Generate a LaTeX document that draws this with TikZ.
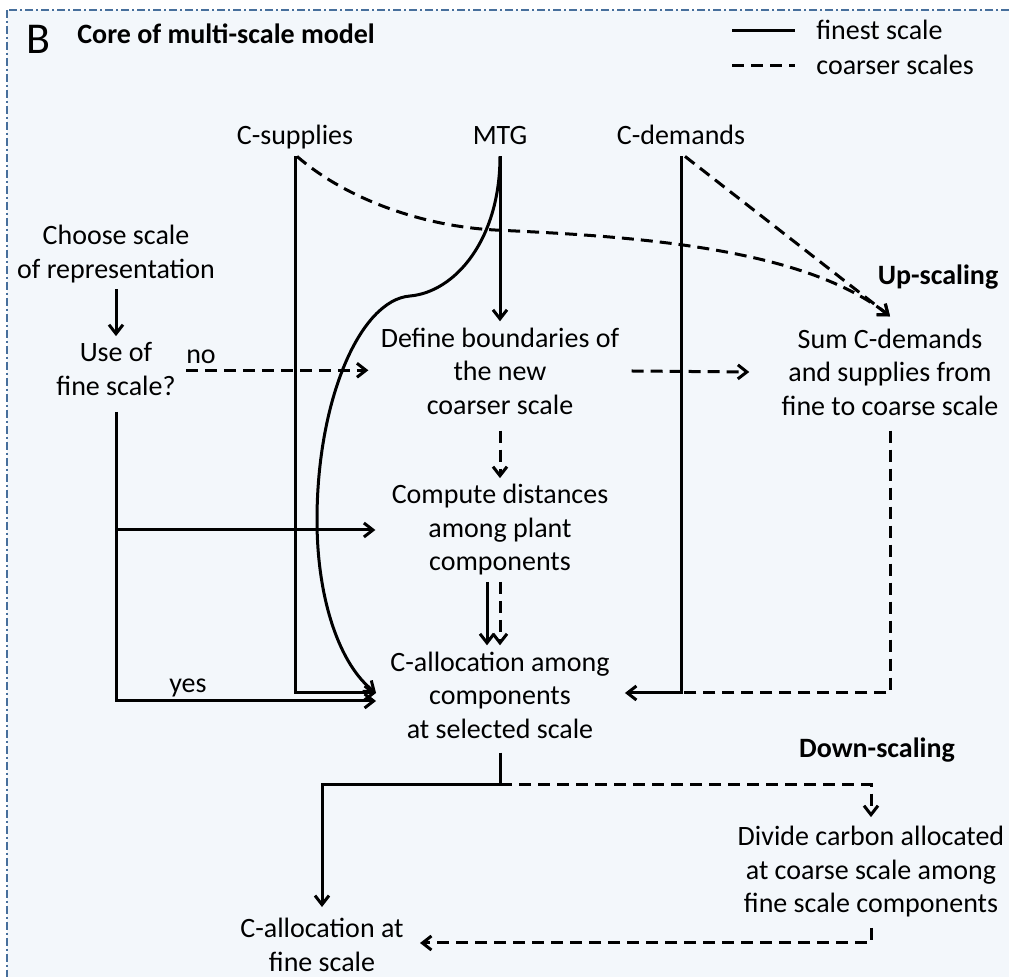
\documentclass[tikz,border=0pt]{standalone}
\usepackage{fontspec}
\setmainfont{Carlito}
\usetikzlibrary{arrows.meta}
\definecolor{panelbg}{HTML}{F3F7FB}
\definecolor{framecol}{HTML}{476F9C}

\begin{document}
\begin{tikzpicture}[x=0.5pt,y=-0.5pt,
    font=\fontsize{14}{16.75}\selectfont,
    >={Straight Barb[length=4.5pt,width=7pt]},
    textnode/.style ={align=center, inner sep=3pt},
    topnode/.style ={inner sep=3pt, anchor=base, text depth=.25em},
    heading/.style ={inner sep=0pt, font=\fontsize{14}{16.75}\selectfont\bfseries},
    fine/.style ={line width=1.5pt},
    coarse/.style ={line width=1.5pt, dash pattern=on 6pt off 3.5pt}]
   \useasboundingbox (0,0) rectangle (1009,977);
   \fill[white] (0,0) rectangle (1009,977);
   \fill[panelbg] (7,10) rectangle (1030,1000);
   \draw[framecol, line width=1pt, dash pattern=on 4pt off 1.5pt on 1pt off 1.5pt] (7,10) rectangle (1030,1000);
   % title and legend
   \node[anchor=base, inner sep=0pt, font=\fontsize{22}{26}\selectfont] (B) at (38,54) {B};
   \node[heading, anchor=base west] (title) at (77,44) {Core of multi-scale model};
   \node[anchor=base west, inner sep=0pt] (lfine) at (816,40) {finest scale};
   \node[anchor=base west, inner sep=0pt] (lcoarse) at (816,75) {coarser scales};
   \draw[fine] ([xshift=-42pt]lfine.west) -- ([xshift=-10.5pt]lfine.west);
   \draw[coarse] ([xshift=-42pt]lcoarse.west) -- ([xshift=-10.5pt]lcoarse.west);
   % inputs
   \node[topnode] (sup) at (295,145) {C-supplies};
   \node[topnode] (mtg) at (500,145) {MTG};
   \node[topnode] (dem) at (681,145) {C-demands};
   % steps
   \node[textnode] (choose) at (116,254) {Choose scale\\of representation};
   \node[textnode] (use) at (116,369) {Use of\\fine scale?};
   \node[inner sep=3pt] (no) at (201,357) {no};
   \node[inner sep=3pt] (yes) at (188,688) {yes};
   \node[textnode] (def) at (500,371) {Define boundaries of\\the new\\coarser scale};
   \node[textnode] (comp) at (500,530) {Compute distances\\among plant\\components};
   \node[textnode] (alloc) at (500,695) {C-allocation among\\components\\at selected scale};
   \node[heading] (up) at (938,277) {Up-scaling};
   \node[textnode] (sum) at (890,372) {Sum C-demands\\and supplies from\\fine to coarse scale};
   \node[heading] (down) at (877,750) {Down-scaling};
   \node[textnode] (div) at (871,872) {Divide carbon allocated\\at coarse scale among\\fine scale components};
   \node[textnode] (fin) at (322,945) {C-allocation at\\fine scale};
   \coordinate (inL) at ([xshift=-4pt,yshift=1pt]alloc.west);
   \coordinate (inY) at ([xshift=-4pt,yshift=-3pt]alloc.west);
   \coordinate (inR) at ([xshift=4.5pt,yshift=1pt]alloc.east);
   \coordinate (split) at ([yshift=-20pt]alloc.south);
   % finest scale
   \draw[fine,->] (choose) -- (use);
   \draw[fine,->] ([yshift=-5pt]use.south) |- (inY);
   \draw[fine,->] (use.south |- comp.west) -- ([xshift=-5pt]comp.west);
   \draw[fine,->] (sup.south) |- (inL);
   \draw[fine,->] (mtg) -- (def);
   \draw[fine,->] (mtg.south) .. controls (500,240) and (455,292) .. (410,296)
      .. controls (360,300) and (317,400) .. (317,520)
      .. controls (317,600) and (340,665) .. (inL);
   \draw[fine,->] (dem.south) |- (inR);
   \draw[fine,->] ([xshift=-6.5pt]comp.south) -- ([xshift=-6.5pt]alloc.north);
   \draw[fine] ([yshift=-4pt]alloc.south) -- (split);
   \draw[fine,->] (split) -| ([yshift=2.5pt]fin.north);
   % coarser scales
   \draw[coarse,->] ([xshift=3pt]no.south west) -- ([xshift=-3pt]no.south west -| def.west);
   \draw[coarse,->] ([yshift=-5pt]def.south) -- (comp);
   \draw[coarse,->] ([xshift=3pt]def.east) -- ([xshift=-13pt]sum.west);
   \draw[coarse,->] (comp.south) -- (alloc.north);
   \draw[coarse,->] ([xshift=1pt]sup.south) .. controls (345,198) and (420,226) .. (495,230)
      .. controls (620,236) and (800,245) .. ([yshift=3pt]sum.north);
   \draw[coarse,->] ([xshift=2pt]dem.south) -- ([yshift=3pt]sum.north);
   \draw[coarse] ([yshift=-4.5pt]sum.south) |- (dem.south |- inR);
   \draw[coarse,->] (split) -| ([yshift=1.5pt]div.north);
   \draw[coarse,->] ([yshift=-2pt]div.south) |- ([xshift=5pt,yshift=1pt]fin.east);
 \end{tikzpicture}
\end{document}
